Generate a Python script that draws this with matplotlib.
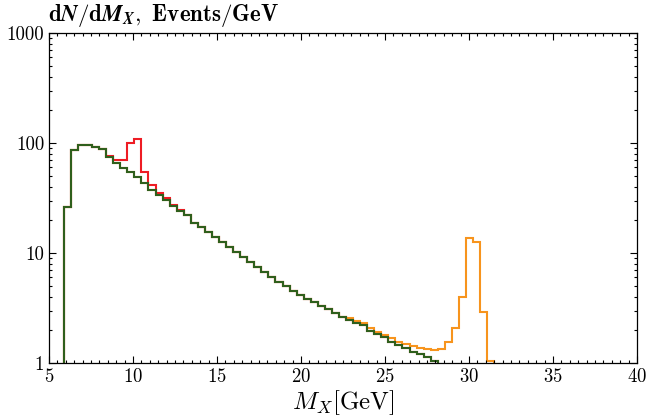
import numpy as np
import matplotlib
matplotlib.use("Agg")
import matplotlib.pyplot as plt
from matplotlib.ticker import FixedLocator, MultipleLocator, LogLocator, NullFormatter

# histogram binning: 0.42 GeV bins, first filled bin starts at 14*0.42
bin_width = 0.42
first_bin = 14

# background (green), bins k=14..66
background = [26, 86, 97, 96, 92, 88,
              74, 66, 59.5, 54, 49.5, 43.6, 37.4,
              33.6, 30.3, 26.7, 24.2, 22.1, 18.8, 17.3, 15.6, 14.1, 12.6,
              11.4, 10.3, 9.2, 8.3, 7.4,
              6.7, 6.1, 5.5, 5.0, 4.55, 4.15,
              3.85, 3.57, 3.31, 3.07, 2.85, 2.64, 2.45, 2.32, 2.2,
              1.97, 1.83, 1.71, 1.56, 1.46, 1.36, 1.27, 1.2, 1.13, 1.05]

# signal + background around 10 GeV (red), bins k=20..31
red_start = 20
red_peak = [76, 70.5, 70, 100.5, 109.5, 55, 41.5, 35.5, 31.5, 27.5, 24.8, 22.4]

# signal + background around 30 GeV (orange), bins k=54..74
orange_start = 54
orange_tail = [2.55, 2.42, 2.33, 2.07, 1.93, 1.8, 1.68, 1.56, 1.49, 1.43, 1.38,
               1.33, 1.31, 1.34, 1.54, 2.1, 3.96, 13.6, 12.5, 2.89, 1.05]

plt.rcParams['font.family'] = 'cmr10'
plt.rcParams['mathtext.fontset'] = 'cm'
plt.rcParams['axes.formatter.use_mathtext'] = True

green = np.array(background, dtype=float)
green_edges = bin_width * np.arange(first_bin, first_bin + len(green) + 1)

red = green.copy()
i0 = red_start - first_bin
red[i0:i0 + len(red_peak)] = red_peak

j0 = orange_start - first_bin
orange = np.concatenate([green[:j0], orange_tail])
orange_edges = bin_width * np.arange(first_bin, first_bin + len(orange) + 1)

fig = plt.figure(figsize=(6.46, 4.19), dpi=100)
ax = fig.add_axes([0.0759, 0.1337, 0.9101, 0.7873])

ax.stairs(orange, orange_edges, baseline=0.1, color='#f7941d', lw=1.5)
ax.stairs(red, green_edges, baseline=0.1, color='#ee1c24', lw=1.5)
ax.stairs(green, green_edges, baseline=0.1, color='#2f5f1c', lw=1.5)

ax.set_yscale('log')
ax.set_xlim(5, 40)
ax.set_ylim(1, 1000)

ax.xaxis.set_major_locator(MultipleLocator(5))
ax.xaxis.set_minor_locator(MultipleLocator(0.5))
ax.yaxis.set_major_locator(FixedLocator([1, 10, 100, 1000]))
ax.set_yticklabels(['1', '10', '100', '1000'])
ax.yaxis.set_minor_locator(LogLocator(base=10, subs=np.arange(2, 10)))
ax.yaxis.set_minor_formatter(NullFormatter())

ax.tick_params(which='both', direction='in', top=True, right=True,
               labelsize=13.5, width=0.8, color='black')
ax.tick_params(which='major', length=5)
ax.tick_params(which='minor', length=2.5)
for s in ax.spines.values():
    s.set_linewidth(0.9)

ax.set_xlabel(r'$M_X$[GeV]', fontsize=18, labelpad=2)
fig.text(0.0745, 0.962, r'$\mathbf{d}\mathbfit{N}\mathbf{/d}\mathbfit{M}_{\mathbfit{X}}\mathbf{,\ Events/GeV}$',
         fontsize=16.5, ha='left', va='center')

fig.savefig('out.png', dpi=100)
